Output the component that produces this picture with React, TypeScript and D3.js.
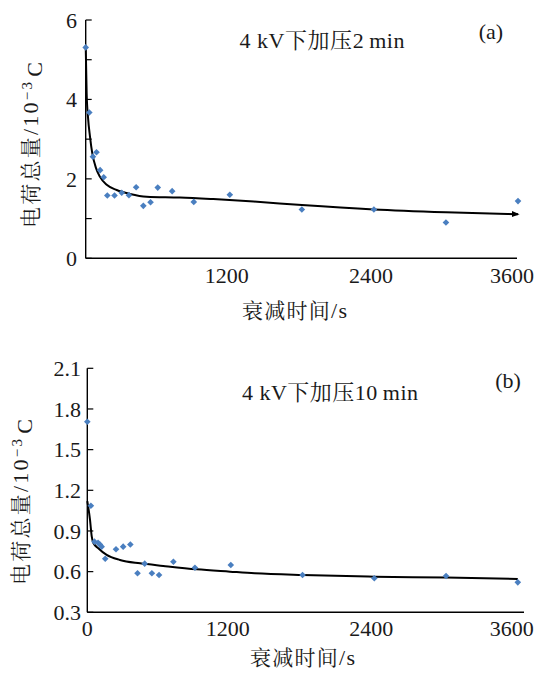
import React from 'react';
import * as d3 from 'd3';

// ---------- Panel (a): 4 kV, 2 min ----------
const timeA = [0, 30, 60, 90, 120, 150, 180, 240, 300, 360, 420, 480, 540, 600, 720, 900, 1200, 1800, 2400, 3000, 3600];
const chargeA = [5.31, 3.67, 2.56, 2.67, 2.22, 2.04, 1.58, 1.58, 1.65, 1.59, 1.79, 1.32, 1.41, 1.78, 1.69, 1.42, 1.6, 1.23, 1.23, 0.9, 1.44];
const fitTimeA = [0, 8, 19, 36, 55, 86, 119, 175, 258, 369, 508, 785, 1063, 1400, 1800, 2400, 3000, 3600];
const fitChargeA = [5.35, 4.15, 3.56, 3.06, 2.64, 2.27, 2.05, 1.85, 1.72, 1.62, 1.55, 1.53, 1.49, 1.43, 1.34, 1.23, 1.16, 1.11];
const yTicksA = [0, 1, 2, 3, 4, 5, 6];
const yLabelsA = [0, 2, 4, 6];
const xLabelsA = [1200, 2400, 3600];

// ---------- Panel (b): 4 kV, 10 min ----------
const timeB = [0, 30, 60, 90, 105, 120, 150, 240, 300, 360, 420, 480, 540, 600, 720, 900, 1200, 1800, 2400, 3000, 3600];
const chargeB = [1.706, 1.086, 0.821, 0.813, 0.8, 0.784, 0.695, 0.765, 0.784, 0.8, 0.588, 0.659, 0.588, 0.575, 0.673, 0.629, 0.649, 0.575, 0.551, 0.568, 0.521];
const fitTimeB = [0, 23, 37, 50, 92, 162, 273, 441, 635, 915, 1193, 1400, 1800, 2400, 3000, 3600];
const fitChargeB = [1.12, 0.98, 0.86, 0.813, 0.772, 0.723, 0.686, 0.661, 0.642, 0.617, 0.6, 0.588, 0.575, 0.563, 0.556, 0.546];
const yTicksB = [0.3, 0.6, 0.9, 1.2, 1.5, 1.8, 2.1];
const yLabelsB = [0.3, 0.6, 0.9, 1.2, 1.5, 1.8, 2.1];
const xLabelsB = [0, 1200, 2400, 3600];

const LAT = { fontFamily: 'Liberation Serif' };
const HAN = { fontFamily: 'Noto Serif CJK SC' };
const BLUE = '#4a7fc0';
const INK = '#1a1a1a';

type Cfg = {
  id: string;
  times: number[];
  charges: number[];
  fitT: number[];
  fitC: number[];
  yTicks: number[];
  yLabels: number[];
  xLabels: number[];
  yDomain: [number, number];
  xRange: [number, number];
  yRange: [number, number];
  axisEnd: number;
  yFmt: (v: number) => string;
  yLabelX: number;
  xLabelY: number;
  minutes: string;
  titleX: number;
  titleY: number;
  titleW: number;
  tag: string;
  tagX: number;
  tagY: number;
  yTitleX: number;
  yTitleY: number;
  xTitleX: number;
  xTitleY: number;
  arrow: boolean;
};

function Panel({ c }: { c: Cfg }) {
  const x = d3.scaleLinear().domain([0, 3600]).range(c.xRange);
  const y = d3.scaleLinear().domain(c.yDomain).range(c.yRange);
  const line = d3
    .line<number>()
    .x((_, i) => x(c.fitT[i]))
    .y((d) => y(d))
    .curve(d3.curveMonotoneX);
  const sym = d3.symbol(d3.symbolSquare, 22)();
  const x0 = x(0);
  const yb = y(c.yDomain[0]);
  const yt = y(c.yDomain[1]);
  return (
    <g>
      {c.arrow && (
        <defs>
          <marker id={`arr-${c.id}`} viewBox="0 0 10 10" refX="8" refY="5" markerWidth="4" markerHeight="4" orient="auto">
            <path d="M0,1 L10,5 L0,9 z" fill="#000" />
          </marker>
        </defs>
      )}
      <line x1={x0} x2={x0} y1={yb} y2={yt} stroke="#000" strokeWidth={1.4} />
      <line x1={x0} x2={c.axisEnd} y1={yb} y2={yb} stroke="#000" strokeWidth={1.4} />
      {c.yTicks.map((t) => (
        <line key={t} x1={x0} x2={x0 + 6} y1={y(t)} y2={y(t)} stroke="#000" strokeWidth={1.2} />
      ))}
      {c.yLabels.map((t) => (
        <text key={t} x={c.yLabelX} y={y(t)} dy="0.35em" textAnchor="end" fontSize={22} style={LAT} fill={INK}>
          {c.yFmt(t)}
        </text>
      ))}
      {c.xLabels.map((t) => (
        <text key={t} x={x(t) - (t === 3600 ? 6 : t === 0 ? 0 : 3)} y={c.xLabelY} dy="0.35em" textAnchor="middle" fontSize={22} style={LAT} fill={INK}>
          {t}
        </text>
      ))}
      <path
        d={line(c.fitC) || ''}
        fill="none"
        stroke="#000"
        strokeWidth={2}
        markerEnd={c.arrow ? `url(#arr-${c.id})` : undefined}
      />
      {c.times.map((t, i) => (
        <path key={i} d={sym || ''} transform={`translate(${x(t)},${y(c.charges[i])}) rotate(45)`} fill={BLUE} />
      ))}
      <text
        x={c.titleX - c.titleW / 2}
        y={c.titleY}
        dy="0.35em"
        fontSize={22}
        style={{ ...LAT, whiteSpace: 'pre' }}
        fill={INK}
        textLength={c.titleW}
        lengthAdjust="spacing"
      >
        <tspan style={LAT}>4 kV</tspan>
        <tspan style={HAN}>下加压</tspan>
        <tspan style={LAT}>{c.minutes}</tspan>
        <tspan style={LAT} dx="5">min</tspan>
      </text>
      <text x={c.tagX} y={c.tagY} dy="0.35em" textAnchor="middle" fontSize={22} style={LAT} fill={INK}>
        {c.tag}
      </text>
      <text
        x={c.xTitleX - 52}
        y={c.xTitleY}
        dy="0.35em"
        fontSize={21}
        style={LAT}
        fill={INK}
        textLength={105}
        lengthAdjust="spacing"
      >
        <tspan style={HAN}>衰减时间</tspan>
        <tspan style={LAT} fontSize={22}>/s</tspan>
      </text>
      <text
        transform={`translate(${c.yTitleX},${c.yTitleY}) rotate(-90)`}
        x={-83}
        dy="0.35em"
        fontSize={21}
        style={LAT}
        fill={INK}
        textLength={166}
        lengthAdjust="spacing"
      >
        <tspan style={HAN}>电荷总量</tspan>
        <tspan style={LAT} fontSize={22}>/10</tspan>
        <tspan style={LAT} dy="-0.45em" fontSize={15}>−3</tspan>
        <tspan style={LAT} dy="0.45em" dx="3" fontSize={22}>C</tspan>
      </text>
    </g>
  );
}

const cfgA: Cfg = {
  id: 'a',
  times: timeA,
  charges: chargeA,
  fitT: fitTimeA,
  fitC: fitChargeA,
  yTicks: yTicksA,
  yLabels: yLabelsA,
  xLabels: xLabelsA,
  yDomain: [0, 6],
  xRange: [85.7, 518],
  yRange: [258.3, 20],
  axisEnd: 517,
  yFmt: (v) => String(v),
  yLabelX: 77,
  xLabelY: 275,
  minutes: '2',
  titleX: 322,
  titleY: 40,
  titleW: 165,
  tag: '(a)',
  tagX: 491,
  tagY: 31,
  yTitleX: 31,
  yTitleY: 145,
  xTitleX: 294,
  xTitleY: 311,
  arrow: true,
};

const cfgB: Cfg = {
  id: 'b',
  times: timeB,
  charges: chargeB,
  fitT: fitTimeB,
  fitC: fitChargeB,
  yTicks: yTicksB,
  yLabels: yLabelsB,
  xLabels: xLabelsB,
  yDomain: [0.3, 2.1],
  xRange: [87.3, 517.8],
  yRange: [612.3, 368.3],
  axisEnd: 524,
  yFmt: (v) => v.toFixed(1),
  yLabelX: 81,
  xLabelY: 628,
  minutes: '10',
  titleX: 330,
  titleY: 392,
  titleW: 176,
  tag: '(b)',
  tagX: 508,
  tagY: 380,
  yTitleX: 21,
  yTitleY: 502,
  xTitleX: 302,
  xTitleY: 658,
  arrow: false,
};

export default function App() {
  return (
    <svg width={544} height={673} style={{ position: 'absolute', left: 0, top: 0, background: '#fff' }}>
      <rect width={544} height={673} fill="#fff" />
      <Panel c={cfgA} />
      <Panel c={cfgB} />
    </svg>
  );
}
